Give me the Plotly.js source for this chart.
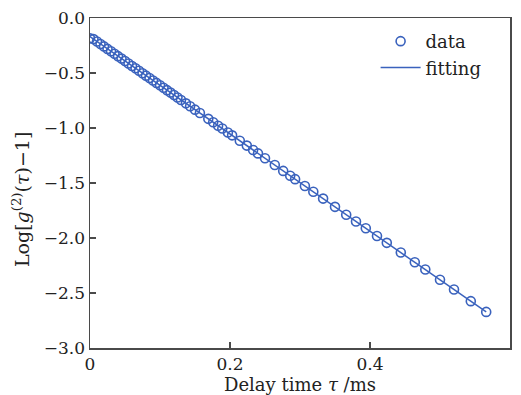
<!DOCTYPE html>
<html>
<head>
<meta charset="utf-8">
<script src="https://cdn.plot.ly/plotly-3.0.1.min.js"></script>
<style>html,body{margin:0;padding:0;background:#fff;}#chart{width:521px;height:395px;}</style>
</head>
<body>
<div id="chart"></div>
<script>
// Delay time tau (ms) of measured points
const dataX = [0, 0.005, 0.010, 0.015, 0.020, 0.025, 0.030, 0.035, 0.040, 0.045, 0.050, 0.055, 0.060, 0.065, 0.070, 0.075, 0.080, 0.085, 0.090, 0.095, 0.100, 0.105, 0.110, 0.115, 0.120, 0.125, 0.130, 0.137, 0.143, 0.150, 0.157, 0.169, 0.176, 0.183, 0.189, 0.197, 0.203, 0.214, 0.224, 0.233, 0.240, 0.250, 0.264, 0.276, 0.286, 0.293, 0.307, 0.319, 0.333, 0.350, 0.366, 0.380, 0.394, 0.410, 0.424, 0.444, 0.464, 0.479, 0.500, 0.520, 0.544, 0.566];
// Log[g2(tau)-1] of measured points
const dataY = [-0.185, -0.192, -0.214, -0.236, -0.258, -0.281, -0.302, -0.325, -0.347, -0.369, -0.391, -0.413, -0.436, -0.457, -0.479, -0.502, -0.524, -0.545, -0.568, -0.590, -0.611, -0.634, -0.656, -0.678, -0.700, -0.723, -0.745, -0.776, -0.802, -0.833, -0.864, -0.917, -0.948, -0.979, -1.005, -1.041, -1.067, -1.116, -1.160, -1.200, -1.231, -1.275, -1.337, -1.390, -1.434, -1.465, -1.527, -1.580, -1.642, -1.717, -1.788, -1.850, -1.911, -1.982, -2.044, -2.132, -2.221, -2.287, -2.380, -2.468, -2.574, -2.672];
// Linear fitting line end points
const fitX = [0, 0.566];
const fitY = [-0.17, -2.672];
const xTicks = [0, 0.2, 0.4, 0.6];
const yTicks = [0, -0.5, -1.0, -1.5, -2.0, -2.5, -3.0];
const xTitle = 'Delay time <i>τ</i> /ms';
const yTitle = 'Log[<i>g</i><sup>(2)</sup>(<i>τ</i>)\u22121]';

const blue = '#3a62bd';
const axisColor = '#4a4a4a';
const fam = 'DejaVu Serif, serif';

const traces = [
  {x: dataX, y: dataY, type: 'scatter', mode: 'markers', name: 'data',
   marker: {symbol: 'circle-open', size: 9, color: blue, line: {width: 1.6, color: blue}}},
  {x: fitX, y: fitY, type: 'scatter', mode: 'lines', name: 'fitting',
   line: {color: blue, width: 1.5}}
];

const layout = {
  width: 521, height: 395,
  margin: {l: 90, r: 11, t: 18, b: 47},
  paper_bgcolor: '#fff', plot_bgcolor: '#fff',
  font: {family: fam, size: 17, color: '#222'},
  showlegend: true,
  legend: {x: 0.68, y: 0.985, xanchor: 'left', yanchor: 'top', bgcolor: 'rgba(0,0,0,0)',
           itemwidth: 40, font: {family: fam, size: 18, color: '#222'}, tracegroupgap: 0},
  xaxis: {
    range: [0, 0.6], tickvals: xTicks, ticktext: xTicks.map(v => v === 0 ? '0' : v.toFixed(1)),
    ticks: 'inside', ticklen: 6, tickwidth: 1.2, tickcolor: axisColor,
    tickfont: {family: fam, size: 17, color: '#222'},
    showline: true, linecolor: axisColor, linewidth: 1.5, mirror: true,
    showgrid: false, zeroline: false,
    title: {text: xTitle, font: {family: fam, size: 18, color: '#222'}, standoff: 6}
  },
  yaxis: {
    range: [-3.0, 0.0], tickvals: yTicks, ticktext: yTicks.map(v => (v < 0 ? '\u2212' : '') + Math.abs(v).toFixed(1)),
    ticks: 'inside', ticklen: 6, tickwidth: 1.2, tickcolor: axisColor,
    tickfont: {family: fam, size: 17, color: '#222'},
    showline: true, linecolor: axisColor, linewidth: 1.5, mirror: true,
    showgrid: false, zeroline: false
  },
  annotations: [{
    text: yTitle, xref: 'paper', yref: 'paper', x: -0.164, y: 0.4485,
    xanchor: 'center', yanchor: 'middle', textangle: -90, showarrow: false,
    font: {family: fam, size: 19, color: '#222'}
  }]
};

Plotly.newPlot('chart', traces, layout, {displayModeBar: false, staticPlot: true});
</script>
</body>
</html>
